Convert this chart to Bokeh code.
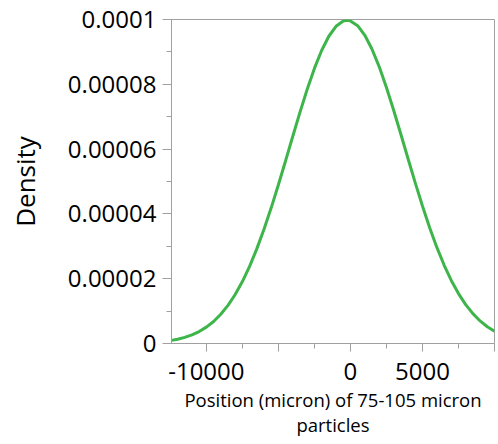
from bokeh.plotting import figure
from bokeh.models import Range1d, FixedTicker
from bokeh.embed import file_html
from bokeh.resources import INLINE

# Values (position in micron, density)
position = [-12420, -12000, -11500, -11000, -10500, -10000, -9500, -9000, -8500,
            -8000, -7500, -7000, -6500, -6000, -5500, -5000, -4500, -4000,
            -3500, -3000, -2500, -2000, -1500, -1000, -500, -230, 0, 500,
            1000, 1500, 2000, 2500, 3000, 3500, 4000, 4500, 5000, 5500,
            6000, 6500, 7000, 7500, 8000, 8500, 9000, 9500, 10000]
density = [0.00000096, 0.00000132, 0.00000188, 0.00000266, 0.00000369, 0.00000505,
           0.00000680, 0.00000902, 0.00001177, 0.00001512, 0.00001912, 0.00002381,
           0.00002920, 0.00003524, 0.00004187, 0.00004899, 0.00005642, 0.00006397,
           0.00007140, 0.00007847, 0.00008490, 0.00009044, 0.00009483, 0.00009791,
           0.00009951, 0.00009974, 0.00009957, 0.00009809, 0.00009513, 0.00009083,
           0.00008538, 0.00007901, 0.00007199, 0.00006457, 0.00005702, 0.00004957,
           0.00004242, 0.00003575, 0.00002965, 0.00002422, 0.00001947, 0.00001541,
           0.00001201, 0.00000922, 0.00000696, 0.00000518, 0.00000379]

x_major = [-10000, -5000, 0, 5000, 10000]
x_minor = [-7500, -2500, 2500, 7500]
x_labels = {-10000: "-10000", -5000: "", 0: "0", 5000: "5000", 10000: ""}

y_major = [0, 0.00002, 0.00004, 0.00006, 0.00008, 0.0001]
y_minor = [0.00001, 0.00003, 0.00005, 0.00007, 0.00009]
y_labels = {0: "0", 0.00002: "0.00002", 0.00004: "0.00004", 0.00006: "0.00006",
            0.00008: "0.00008", 0.0001: "0.0001"}

x_title = "Position (micron) of 75-105 micron\nparticles"
y_title = "Density"

GRAY = "#A0A0A0"
FONT = "Open Sans"

p = figure(width=498, height=444, output_backend="svg", toolbar_location=None,
           x_range=Range1d(-12420, 10000), y_range=Range1d(0, 0.0001),
           min_border_left=171, min_border_right=4, min_border_top=19,
           min_border_bottom=101)

p.line(position, density, line_color="#3DB54A", line_width=3)

p.xgrid.visible = False
p.ygrid.visible = False
p.outline_line_color = GRAY
p.outline_line_width = 1
p.background_fill_color = "white"
p.border_fill_color = "white"

xa = p.xaxis[0]
xa.ticker = FixedTicker(ticks=x_major, minor_ticks=x_minor)
xa.major_label_overrides = x_labels
xa.axis_line_color = GRAY
xa.major_tick_line_color = GRAY
xa.minor_tick_line_color = GRAY
xa.major_tick_in = 0
xa.major_tick_out = 8
xa.minor_tick_in = 0
xa.minor_tick_out = 5
xa.major_label_text_font = FONT
xa.major_label_text_font_size = "24px"
xa.major_label_text_color = "black"
xa.major_label_standoff = 11
xa.axis_label = x_title
xa.axis_label_text_font = FONT
xa.axis_label_text_font_size = "18.5px"
xa.axis_label_text_font_style = "normal"
xa.axis_label_text_color = "black"
xa.axis_label_text_line_height = 1.0
xa.axis_label_standoff = 4

ya = p.yaxis[0]
ya.ticker = FixedTicker(ticks=y_major, minor_ticks=y_minor)
ya.major_label_overrides = y_labels
ya.axis_line_color = GRAY
ya.major_tick_line_color = GRAY
ya.minor_tick_line_color = GRAY
ya.major_tick_in = 0
ya.major_tick_out = 9
ya.minor_tick_in = 0
ya.minor_tick_out = 5
ya.major_label_text_font = FONT
ya.major_label_text_font_size = "24px"
ya.major_label_text_color = "black"
ya.major_label_standoff = 6
ya.axis_label = y_title
ya.axis_label_text_font = FONT
ya.axis_label_text_font_size = "26px"
ya.axis_label_text_font_style = "normal"
ya.axis_label_text_color = "black"
ya.axis_label_standoff = 22

open("out.html", "w").write(file_html(p, INLINE))
